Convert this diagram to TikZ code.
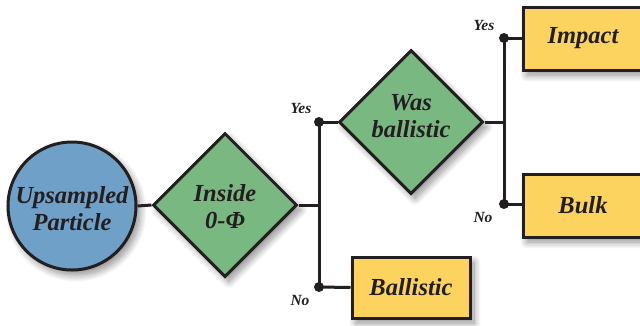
\documentclass[tikz,border=0pt]{standalone}
\usepackage{fontspec}
\setmainfont{Liberation Serif}
\usetikzlibrary{shapes.geometric,shadows.blur}
\definecolor{cblue}{HTML}{6FA0C8}
\definecolor{cgreen}{HTML}{7AB882}
\definecolor{cyellow}{HTML}{FDD35F}
\definecolor{cline}{HTML}{231F20}
\tikzset{
  shad/.style={blur shadow={shadow xshift=4pt, shadow yshift=-5pt, shadow blur steps=12, shadow blur radius=7pt, shadow opacity=45}},
  lbl/.style={font=\fontsize{24.5}{27}\selectfont\bfseries\itshape, text=cline, align=center},
  small/.style={font=\fontsize{15.5}{17}\selectfont\bfseries\itshape, text=cline},
  startnode/.style={circle, draw=cline, line width=3pt, fill=cblue, minimum size=128pt, inner sep=0pt, shad},
  decision/.style={diamond, draw=cline, line width=3pt, fill=cgreen, minimum width=144pt, minimum height=144pt, inner sep=0pt, shad},
  outbox/.style={rectangle, draw=cline, line width=3pt, fill=cyellow, inner sep=0pt, shad, lbl},
  conn/.style={draw=cline, line width=3pt},
  dot/.style={circle, fill=cline, minimum size=10pt, inner sep=0pt}
}
\begin{document}
\begin{tikzpicture}[x=1pt,y=-1pt]
\useasboundingbox (0,0) rectangle (640,325);
\node[startnode] (c) at (72,206) {};
\node[lbl] (ct) at (72,209) {Upsampled\\Particle};
\node[decision] (d1) at (225,205) {};
\node[lbl] (d1t) at (225,207) {Inside\\0-Φ};
\node[decision] (d2) at (411,122) {};
\node[lbl] (d2t) at (411,116) {Was\\ballistic};
\node[outbox, minimum width=118pt, minimum height=61pt] (ball) at (411,287.5) {Ballistic};
\node[outbox, minimum width=120pt, minimum height=63pt] (imp) at (583,38.5) {Impact};
\node[outbox, minimum width=120pt, minimum height=63pt] (bulk) at (583,205.5) {Bulk};
\coordinate (y1) at (319,122);
\coordinate (n1) at (319,287);
\coordinate (y2) at (504,38);
\coordinate (n2) at (504,204);
\draw[conn] (c.east) -- (d1.west);
\draw[conn, line cap=rect] (y1) -- (n1);
\draw[conn] (d1.east) -- (d1.east -| y1);
\draw[conn] (y1) -- (d2.west);
\draw[conn] (n1) -- (ball.west);
\draw[conn, line cap=rect] (y2) -- (n2);
\draw[conn] (d2.east) -- (d2.east -| y2);
\draw[conn] (y2) -- (imp.west |- y2);
\draw[conn] (n2) -- (bulk.west |- n2);
\node[dot] (dy1) at (y1) {};
\node[dot] (dn1) at (n1) {};
\node[dot] (dy2) at (y2) {};
\node[dot] (dn2) at (n2) {};
\node[small] (ly1) at (301,108) {Yes};
\node[small] (ln1) at (300,300) {No};
\node[small] (ly2) at (484,25) {Yes};
\node[small] (ln2) at (483,217) {No};
\end{tikzpicture}
\end{document}
